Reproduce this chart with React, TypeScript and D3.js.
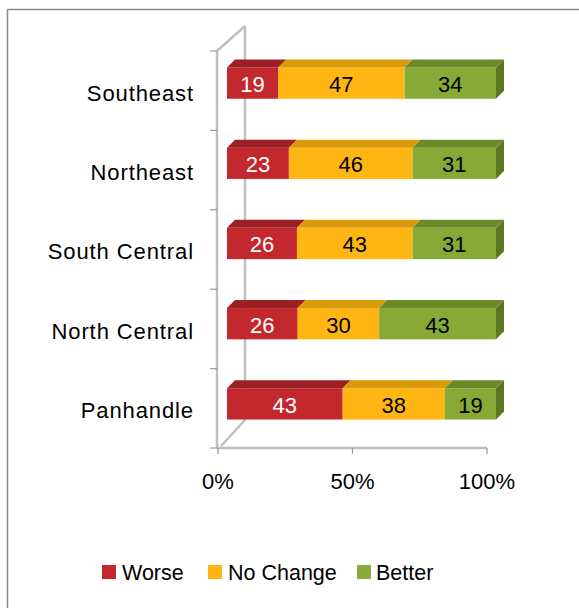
import React from "react";
import * as d3 from "d3";

const categories = ["Southeast", "Northeast", "South Central", "North Central", "Panhandle"];
const seriesNames = ["Worse", "No Change", "Better"];
const worse = [19, 23, 26, 26, 43];
const noChange = [47, 46, 43, 30, 38];
const better = [34, 31, 31, 43, 19];
const tickValues = [0, 50, 100];
const tickLabels = ["0%", "50%", "100%"];

const frontColors = ["#C3282E", "#FFB612", "#86AA35"];
const topColors = ["#9C1F24", "#D99A0C", "#6B8A28"];
const sideColors = ["#9C1F24", "#D99A0C", "#5A781F"];
const labelColors = ["#ffffff", "#000000", "#000000"];

const FONT = "'Liberation Sans', Arial, sans-serif";

export default function App() {
  const W = 579, H = 608;
  const x = d3.scaleLinear().domain([0, 100]).range([218, 487]);
  const yAxis = d3.scaleBand<string>().domain(categories).range([51, 448]);
  const yBar = d3.scaleBand<string>().domain(categories).range([43, 444]).paddingInner(0.61).paddingOuter(0.305);
  const barDx = 9;
  const depth = { dx: 8, dy: -8 };
  const wallDepth = { dx: 28, dy: -25 };

  const series = [worse, noChange, better];
  const rows = categories.map((c, i) => {
    const vals = series.map((s) => s[i]);
    const total = d3.sum(vals);
    let acc = 0;
    const segs = vals.map((v, k) => {
      const p0 = (acc / total) * 100;
      acc += v;
      const p1 = (acc / total) * 100;
      return { v, k, x0: x(p0) + barDx, x1: x(p1) + barDx };
    });
    return { c, segs };
  });

  const axisColor = "#BFBFBF";
  const x0 = x(0);
  const yTop = yAxis.range()[0];
  const yBot = yAxis.range()[1];
  const boundaries = [...categories.map((c) => yAxis(c)!), yBot];

  const legendItems = [
    { name: seriesNames[0], sx: 102, tx: 122 },
    { name: seriesNames[1], sx: 208, tx: 228 },
    { name: seriesNames[2], sx: 357, tx: 376 },
  ];

  return (
    <svg width={W} height={H} style={{ position: "absolute", left: 0, top: 0, background: "#fff" }}>
      <rect x={7.5} y={9.5} width={W} height={H} fill="#fff" stroke="#8A8A8A" strokeWidth={1.5} />
      {/* 3D walls */}
      <g stroke={axisColor} strokeWidth={2.5} fill="none">
        <line x1={x0 - 1} y1={yTop} x2={x0 - 1} y2={yBot} />
        <line x1={x0 - 1} y1={yTop} x2={x0 - 1 + wallDepth.dx} y2={yTop + wallDepth.dy} />
        <line x1={x0 - 1 + wallDepth.dx} y1={yTop + wallDepth.dy} x2={x0 - 1 + wallDepth.dx} y2={yBot - 28} />
        <line x1={x0 - 1 + wallDepth.dx} y1={yBot - 28} x2={x0 + 3} y2={yBot - 2} />
        <line x1={x0 - 1} y1={yBot} x2={x(100)} y2={yBot} />
      </g>
      <g stroke="#9A9A9A" strokeWidth={1.2}>
        {boundaries.map((b, i) => (
          <line key={"yt" + i} x1={x0 - 8} y1={b} x2={x0 - 1} y2={b} />
        ))}
        {tickValues.map((t) => (
          <line key={"xt" + t} x1={x(t)} y1={yBot} x2={x(t)} y2={yBot + 6} />
        ))}
      </g>
      {/* bars */}
      {rows.map((r) => {
        const y = yBar(r.c)!;
        const h = yBar.bandwidth();
        const last = r.segs[r.segs.length - 1];
        return (
          <g key={r.c}>
            {r.segs.map((s) => (
              <rect key={"f" + s.k} x={s.x0} y={y} width={s.x1 - s.x0} height={h} fill={frontColors[s.k]} />
            ))}
            {r.segs.map((s) => (
              <polygon
                key={"t" + s.k}
                points={`${s.x0},${y} ${s.x1},${y} ${s.x1 + depth.dx},${y + depth.dy} ${s.x0 + depth.dx},${y + depth.dy}`}
                fill={topColors[s.k]}
              />
            ))}
            <polygon
              points={`${last.x1},${y} ${last.x1 + depth.dx},${y + depth.dy} ${last.x1 + depth.dx},${y + h + depth.dy} ${last.x1},${y + h}`}
              fill={sideColors[last.k]}
            />
            {r.segs.map((s) => (
              <text
                key={"l" + s.k}
                x={(s.x0 + s.x1) / 2}
                y={y + h / 2 + 1}
                dy="0.36em"
                textAnchor="middle"
                fontFamily={FONT}
                fontSize={22}
                fill={labelColors[s.k]}
              >
                {s.v}
              </text>
            ))}
          </g>
        );
      })}
      {/* category labels */}
      {categories.map((c) => (
        <text key={c} x={194} y={yAxis(c)! + yAxis.bandwidth() / 2 + 2} dy="0.36em" textAnchor="end" fontFamily={FONT} fontSize={22} letterSpacing={0.9} fill="#000">
          {c}
        </text>
      ))}
      {tickValues.map((t, i) => (
        <text key={"tl" + t} x={x(t)} y={481} dy="0.36em" textAnchor="middle" fontFamily={FONT} fontSize={22} fill="#000">
          {tickLabels[i]}
        </text>
      ))}
      {/* legend */}
      {legendItems.map((it, i) => (
        <g key={it.name}>
          <rect x={it.sx} y={565} width={14} height={14} fill={frontColors[i]} />
          <text x={it.tx} y={572} dy="0.36em" fontFamily={FONT} fontSize={21.5} fill="#000">
            {it.name}
          </text>
        </g>
      ))}
    </svg>
  );
}
